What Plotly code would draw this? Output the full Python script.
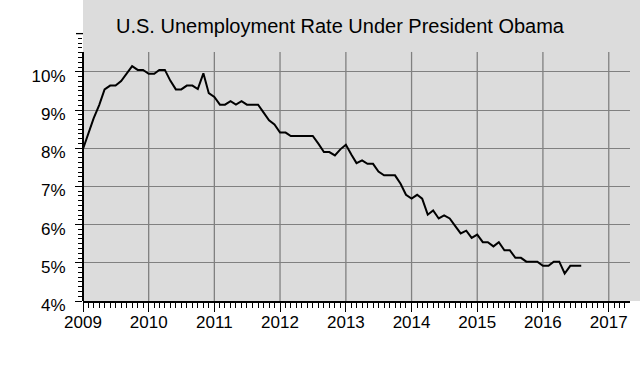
import numpy as np
import pandas as pd
import plotly.graph_objects as go

# Monthly unemployment rate (%), Jan 2009 .. Aug 2016
rates = [
    7.98, 8.42, 8.78, 9.13, 9.54, 9.64, 9.64, 9.76, 9.95, 10.15, 10.05, 10.05,   # 2009
    9.95, 9.95, 10.05, 10.05, 9.77, 9.54, 9.54, 9.64, 9.64, 9.55, 9.96, 9.44,    # 2010
    9.34, 9.14, 9.14, 9.23, 9.14, 9.23, 9.14, 9.14, 9.14, 8.94, 8.73, 8.62,      # 2011
    8.41, 8.41, 8.32, 8.32, 8.32, 8.32, 8.32, 8.12, 7.90, 7.90, 7.81, 7.97,      # 2012
    8.09, 7.83, 7.61, 7.68, 7.59, 7.59, 7.39, 7.29, 7.29, 7.29, 7.07, 6.78,      # 2013
    6.68, 6.78, 6.68, 6.26, 6.37, 6.16, 6.24, 6.16, 5.96, 5.77, 5.84, 5.65,      # 2014
    5.74, 5.54, 5.54, 5.43, 5.54, 5.33, 5.33, 5.13, 5.13, 5.03, 5.03, 5.03,      # 2015
    4.92, 4.92, 5.03, 5.03, 4.72, 4.92, 4.92, 4.92,                              # 2016
]
start_month = "2009-01-01"
months = pd.date_range(start_month, periods=len(rates), freq="MS")

year_ticks = [2009, 2010, 2011, 2012, 2013, 2014, 2015, 2016, 2017]
pct_ticks = [4, 5, 6, 7, 8, 9, 10]
pct_labels = [f"{v}%" for v in pct_ticks]
title_text = "U.S. Unemployment Rate Under President Obama"

GRAY = "#dcdcdc"
GRID = "#808080"
FONT = "Liberation Sans, Arial, sans-serif"

y_min, y_top, y_axis_top = 4, 11.88, 10.52
x_end = "2017-04-29"

fig = go.Figure()
fig.add_trace(go.Scatter(x=months, y=rates, mode="lines",
                         line=dict(color="black", width=2), showlegend=False,
                         hoverinfo="skip"))

shapes = []
# gray backdrop extension to the right edge
shapes.append(dict(type="rect", xref="paper", yref="paper", x0=1, x1=1.03, y0=0, y1=1,
                   fillcolor=GRAY, line=dict(width=0), layer="below"))
# vertical grid lines
for yr in year_ticks[1:]:
    shapes.append(dict(type="line", xref="x", yref="y", x0=f"{yr}-01-01", x1=f"{yr}-01-01",
                       y0=y_min, y1=y_axis_top, line=dict(color=GRID, width=1.3), layer="below"))
# y axis line
shapes.append(dict(type="line", xref="paper", yref="y", x0=0, x1=0, y0=y_min, y1=y_axis_top,
                   line=dict(color="black", width=2)))
# unlabeled 11% tick
shapes.append(dict(type="line", xref="paper", yref="y", x0=-7 / 547, x1=0, y0=11, y1=11,
                   line=dict(color="black", width=1.3)))

fig.update_layout(
    width=640, height=375,
    margin=dict(l=83, r=10, t=0, b=74, pad=0),
    paper_bgcolor="white", plot_bgcolor=GRAY,
    font=dict(family=FONT, color="black", size=17),
    shapes=shapes,
    annotations=[dict(text=title_text, xref="paper", yref="paper",
                      x=(340.5 - 83) / 547, y=1 - 26 / 301, xanchor="center", yanchor="middle",
                      showarrow=False, font=dict(size=20, family=FONT, color="black"))],
)
fig.update_xaxes(
    type="date", range=[start_month, x_end],
    tickvals=[f"{y}-01-01" for y in year_ticks], ticktext=[str(y) for y in year_ticks],
    ticks="outside", ticklen=9, tickwidth=1.3, tickcolor="black",
    showline=True, linecolor="black", linewidth=2,
    showgrid=False, zeroline=False,
    minor=dict(ticks="outside", ticklen=5, tickwidth=1, tickcolor="black", dtick="M1",
               tick0=start_month, showgrid=False),
    tickfont=dict(size=17, family=FONT, color="black"),
    ticklabelstandoff=-4,
)
fig.update_yaxes(
    range=[y_min, y_top],
    tickvals=pct_ticks, ticktext=pct_labels,
    ticks="outside", ticklen=7, tickwidth=1.3, tickcolor="black",
    showline=False, showgrid=True, gridcolor=GRID, gridwidth=1.3, zeroline=False,
    minor=dict(ticks="outside", ticklen=4, tickwidth=1, tickcolor="black",
               tickmode="array", tickvals=list(np.arange(4, 11.001, 0.125)), showgrid=False),
    tickfont=dict(size=17, family=FONT, color="black"),
    ticklabelstandoff=6, ticklabelshift=4,
)

fig.write_html("out.html", post_script="document.body.style.margin='0';",
               config={"displayModeBar": False})
